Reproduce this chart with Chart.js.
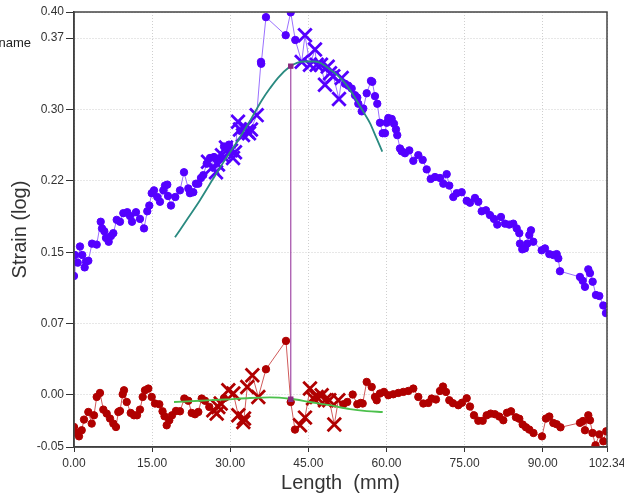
<!DOCTYPE html>
<html><head><meta charset="utf-8">
<script src="https://cdn.jsdelivr.net/npm/chart.js@4/dist/chart.umd.min.js"></script>
<style>html,body{margin:0;padding:0;background:#fff;}canvas{display:block}</style>
</head><body>
<canvas id="c" width="624" height="498"></canvas>
<script>
// ---------- data (Length in mm, Strain log) ----------
const purpleX = [0.00,0.19,0.71,1.15,1.59,2.05,2.30,2.75,3.46,4.36,5.13,5.38,5.82,6.14,6.66,7.10,7.55,8.20,8.83,9.47,10.23,10.75,11.14,11.90,12.67,13.44,14.07,14.46,14.92,15.36,15.99,16.51,17.15,17.47,17.91,18.05,18.62,19.45,20.35,21.12,21.95,22.27,22.91,23.42,23.87,24.38,24.83,25.48,25.73,26.11,26.50,26.88,27.26,27.65,28.03,28.42,28.80,29.18,29.76,30.14,30.53,30.91,31.49,31.87,32.45,32.83,33.22,33.60,33.98,35.08,35.90,35.95,36.86,40.65,41.61,42.49,43.72,44.35,45.31,46.27,46.60,47.42,48.19,48.71,49.15,49.79,50.88,51.40,52.03,52.67,53.32,53.95,54.39,54.59,55.24,55.55,56.20,57.02,57.27,57.79,58.23,58.75,59.27,59.71,60.04,60.35,61.00,61.44,61.82,62.07,62.59,62.92,63.55,64.38,65.15,66.11,66.95,67.72,68.49,69.31,70.27,70.91,71.56,72.06,72.83,73.48,74.44,75.40,76.03,76.99,77.63,78.28,79.10,79.87,80.64,81.27,81.98,82.75,83.57,84.34,85.00,85.50,85.63,86.07,86.59,87.03,87.42,87.74,88.19,89.80,90.43,91.26,92.03,92.68,92.99,93.31,97.15,97.67,98.11,98.75,99.07,99.59,100.22,100.86,101.63,102.14];
const purpleY = [0.125,0.147,0.139,0.156,0.147,0.134,0.140,0.141,0.159,0.158,0.182,0.175,0.172,0.165,0.161,0.167,0.170,0.184,0.182,0.191,0.192,0.188,0.182,0.192,0.185,0.175,0.193,0.199,0.212,0.215,0.208,0.203,0.215,0.220,0.221,0.209,0.199,0.208,0.215,0.234,0.217,0.212,0.213,0.222,0.222,0.228,0.231,0.243,0.245,0.249,0.239,0.250,0.234,0.242,0.249,0.252,0.261,0.260,0.263,0.257,0.249,0.255,0.287,0.279,0.273,0.281,0.277,0.275,0.279,0.294,0.350,0.348,0.397,0.378,0.402,0.373,0.350,0.378,0.347,0.363,0.347,0.347,0.326,0.345,0.338,0.335,0.311,0.333,0.327,0.325,0.322,0.315,0.3125,0.306,0.298,0.301,0.317,0.330,0.329,0.314,0.306,0.286,0.275,0.275,0.286,0.291,0.290,0.285,0.279,0.273,0.259,0.256,0.254,0.257,0.246,0.252,0.247,0.237,0.227,0.229,0.228,0.222,0.232,0.220,0.208,0.212,0.213,0.204,0.202,0.207,0.203,0.193,0.194,0.189,0.185,0.179,0.187,0.180,0.179,0.180,0.175,0.170,0.159,0.153,0.154,0.159,0.168,0.173,0.161,0.152,0.154,0.148,0.147,0.148,0.1435,0.130,0.124,0.120,0.1136,0.132,0.128,0.119,0.105,0.104,0.094,0.086];
const purpleCrossIdx = [48,50,52,53,55,57,59,60,61,62,63,64,65,66,67,68,69,76,77,78,79,80,81,82,83,84,85,86,87];

const redX = [0.00,0.52,0.96,1.48,1.92,2.75,3.40,3.84,4.36,4.99,5.63,6.28,6.91,7.55,8.06,8.51,8.83,9.35,9.60,10.12,10.89,11.52,12.10,12.67,13.19,13.63,14.27,14.92,15.55,16.38,17.00,17.38,17.80,18.30,18.82,19.58,20.35,21.18,21.95,22.60,23.23,23.87,24.52,25.15,25.98,26.75,27.40,27.71,28.17,28.80,29.63,30.59,31.55,32.51,32.64,33.27,34.24,35.39,36.86,40.70,41.61,42.43,43.39,44.35,45.31,45.89,46.60,47.56,48.19,49.02,49.98,50.75,51.71,52.47,53.51,54.39,55.05,55.43,56.20,57.16,57.79,58.12,58.75,59.52,60.35,61.31,62.27,63.23,64.19,65.15,66.11,67.07,68.03,68.68,69.50,70.27,70.85,71.42,72.06,72.77,73.79,74.50,75.40,76.03,76.80,77.63,78.47,79.24,80.01,80.83,81.66,82.43,83.14,83.91,84.86,85.50,86.15,86.78,87.42,88.22,89.86,90.62,91.26,92.03,92.68,93.41,97.15,97.72,98.11,98.75,99.07,99.55,100.13,100.86,101.63,102.20];
const redY = [-0.0337,-0.040,-0.0435,-0.0371,-0.0259,-0.0179,-0.0301,-0.0214,-0.0021,0.0021,-0.0154,-0.0196,-0.0248,-0.0301,-0.0337,-0.0179,-0.0168,0.0007,0.0049,-0.0074,-0.0189,-0.0214,-0.0214,-0.0154,-0.0021,0.0049,0.0067,-0.0021,-0.0090,-0.0098,-0.0172,-0.0224,-0.0319,-0.0266,-0.0214,-0.0168,-0.0172,-0.0038,-0.0061,-0.0189,-0.0203,-0.0179,-0.0038,-0.0061,-0.0126,-0.0161,-0.0196,-0.0126,-0.0090,-0.0035,0.0049,0.0015,-0.0214,-0.0284,-0.0248,0.0084,0.0207,-0.0021,0.0270,0.0568,-0.0074,-0.0364,-0.0319,-0.0238,0.0067,-0.0035,-0.0021,-0.0003,-0.0056,-0.0056,-0.0311,-0.0056,-0.0098,-0.0074,0.0004,-0.0098,-0.0084,-0.0090,0.0137,0.0084,-0.0021,-0.0056,0.0015,0.0032,-0.0003,0.0007,0.0021,0.0032,0.0042,0.0067,-0.0021,-0.0090,-0.0084,-0.0038,-0.0048,0.0042,0.0088,0.0032,-0.0056,-0.0087,-0.0108,-0.0082,-0.0035,-0.0122,-0.0214,-0.0271,-0.0271,-0.0214,-0.0196,-0.0203,-0.0227,-0.0266,-0.0187,-0.0172,-0.0235,-0.0250,-0.0311,-0.0340,-0.0364,-0.0400,-0.0435,-0.0248,-0.0227,-0.0295,-0.0308,-0.0340,-0.0293,-0.0274,-0.0371,-0.0214,-0.0266,-0.0400,-0.0529,-0.0414,-0.0487,-0.0382];
const redCrossIdx = [45,46,47,48,50,51,52,53,54,55,56,57,62,63,64,65,66,67,68,69,70,71];

const tealX = [19.39,21.9,24.19,26.74,28.99,31.54,33.79,36.04,37.63,39.22,41.47,42.81,44.35,46.27,47.61,48.82,50.49,52.03,53.37,54.58,55.68,56.83,57.98,59.19];
const tealY = [0.1656,0.186,0.2047,0.2274,0.247,0.268,0.288,0.3095,0.3222,0.3335,0.3451,0.349,0.3504,0.3504,0.348,0.3434,0.3364,0.3277,0.3174,0.3066,0.2964,0.2856,0.2711,0.2557];

const greenX = [19.2,24.19,28.99,33.79,37.63,41.47,45.31,49.15,52.99,56.2,59.27];
const greenY = [-0.0074,-0.0061,-0.0048,-0.0032,-0.0026,-0.0040,-0.0074,-0.0108,-0.0150,-0.0170,-0.0179];

const cursorX = [41.62, 41.62];
const cursorY = [0.3455, -0.0045];

const xTicks = [0,15,30,45,60,75,90,102.34];
const xTickLabels = ['0.00','15.00','30.00','45.00','60.00','75.00','90.00','102.34'];
const yTicks = [-0.0547,0,0.075,0.15,0.225,0.30,0.375,0.4024];
const yTickLabels = ['-0.05','0.00','0.07','0.15','0.22','0.30','0.37','0.40'];

// ---------- chart ----------
const pts = (xs, ys) => xs.map((x, i) => ({x: x, y: ys[i]}));
const FONT = "'Liberation Sans', Arial, sans-serif";
const pSet = new Set(purpleCrossIdx);
const rSet = new Set(redCrossIdx);
const PURPLE = '#5400ff', RED = '#b00000';

const boxPlugin = {
  id: 'box',
  afterDraw(chart) {
    const {ctx, chartArea: a} = chart;
    ctx.save();
    ctx.strokeStyle = '#444';
    ctx.lineWidth = 1.5;
    ctx.strokeRect(a.left, a.top, a.right - a.left, a.bottom - a.top);
    ctx.fillStyle = '#222';
    ctx.font = '13px ' + FONT;
    ctx.textAlign = 'right';
    ctx.textBaseline = 'middle';
    ctx.fillText('name', 31, 43);
    ctx.restore();
  }
};

new Chart(document.getElementById('c'), {
  type: 'scatter',
  data: {
    datasets: [
      {
        data: pts(cursorX, cursorY), showLine: true, order: 0,
        borderColor: '#a24aa6', borderWidth: 1.2,
        pointStyle: 'rect', pointRadius: 3, pointBackgroundColor: '#8a2a80', pointBorderColor: '#8a2a80'
      },
      {
        data: pts(tealX, tealY), showLine: true, order: 0, cubicInterpolationMode: 'monotone',
        borderColor: '#2a8a80', borderWidth: 1.8, pointRadius: 0
      },
      {
        data: pts(greenX, greenY), showLine: true, order: 0, cubicInterpolationMode: 'monotone',
        borderColor: '#4cc04c', borderWidth: 1.8, pointRadius: 0
      },
      {
        data: pts(purpleX, purpleY), showLine: true, order: 1,
        borderColor: '#9a70ff', borderWidth: 1,
        pointStyle: c => pSet.has(c.dataIndex) ? 'crossRot' : 'circle',
        pointRadius: c => pSet.has(c.dataIndex) ? 9.5 : 3.7,
        pointBorderWidth: c => pSet.has(c.dataIndex) ? 2.8 : 1,
        pointBackgroundColor: PURPLE, pointBorderColor: PURPLE
      },
      {
        data: pts(redX, redY), showLine: true, order: 2,
        borderColor: '#d05a5a', borderWidth: 1,
        pointStyle: c => rSet.has(c.dataIndex) ? 'crossRot' : 'circle',
        pointRadius: c => rSet.has(c.dataIndex) ? 9.5 : 3.7,
        pointBorderWidth: c => rSet.has(c.dataIndex) ? 2.8 : 1,
        pointBackgroundColor: RED, pointBorderColor: RED
      }
    ]
  },
  options: {
    responsive: false, animation: false, events: [],
    layout: { padding: { top: 12, right: 17, left: 0, bottom: 0 } },
    plugins: { legend: { display: false }, tooltip: { enabled: false } },
    scales: {
      x: {
        type: 'linear', min: 0, max: 102.34,
        afterBuildTicks: s => { s.ticks = xTicks.map(v => ({value: v})); },
        afterFit: s => { s.height = 51; s.paddingLeft = 0; s.paddingRight = 0; },
        ticks: { callback: (v, i) => xTickLabels[i], color: '#333', font: { family: FONT, size: 12 }, padding: 4, maxRotation: 0, autoSkip: false },
        grid: { color: '#cfcfcf', lineWidth: 1, tickLength: 5, tickColor: '#333', tickBorderDash: [], tickWidth: 1 },
        border: { display: true, color: '#333', width: 1.5, dash: [1, 2] },
        title: { display: true, text: 'Length  (mm)', color: '#333', font: { family: FONT, size: 20 }, padding: { top: 0, bottom: 3 } }
      },
      y: {
        type: 'linear', min: -0.0547, max: 0.4024,
        afterBuildTicks: s => { s.ticks = yTicks.map(v => ({value: v})); },
        afterFit: s => { s.width = 74; s.paddingTop = 0; s.paddingBottom = 0; },
        ticks: { callback: (v, i) => yTickLabels[i], color: '#333', font: { family: FONT, size: 12 }, padding: 2, autoSkip: false },
        grid: { color: '#cfcfcf', lineWidth: 1, tickLength: 8, tickColor: '#333', tickBorderDash: [], tickWidth: 1 },
        border: { display: true, color: '#333', width: 1.5, dash: [1, 2] },
        title: { display: true, text: 'Strain (log)', color: '#333', font: { family: FONT, size: 20 }, padding: { top: 8, bottom: 0 } }
      }
    }
  },
  plugins: [boxPlugin]
});
</script>
</body></html>
